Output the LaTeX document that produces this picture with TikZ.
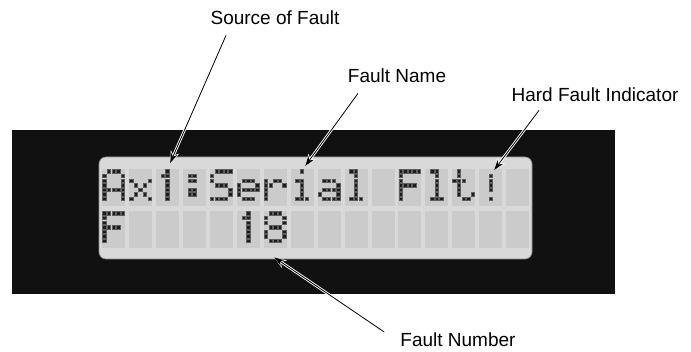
\documentclass[tikz,border=0pt]{standalone}
\usepackage{fontspec}
\setmainfont{Liberation Sans}
\usepackage{tikz}
\usetikzlibrary{arrows.meta}
\definecolor{lcdBezel}{HTML}{111111}
\definecolor{lcdPanel}{HTML}{D9D9D9}
\definecolor{lcdEdge}{HTML}{8C8C8C}
\definecolor{lcdCell}{HTML}{CBCBCB}
\definecolor{lcdDot}{HTML}{1C1C1C}
\definecolor{lcdDotEdge}{HTML}{5E5E5E}
\tikzset{
    lcd/bezel/.style={fill=lcdBezel, draw=none},
    lcd/panel/.style={
        fill=lcdPanel, draw=lcdEdge, line width=0.6pt, rounded corners=7pt
    },
    lcd/cell/.style={
        rectangle, fill=lcdCell, draw=none, inner sep=0pt,
        minimum width=23pt, minimum height=37pt, anchor=north west
    },
    lcd/dot/.style={fill=lcdDot, draw=lcdDotEdge, line width=0.5pt},
    callout/label/.style={
        font=\fontsize{19}{22}\selectfont, text=black,
        inner sep=1pt, anchor=base
    },
    callout/arrow/.style={
        draw=black, line width=0.8pt,
        -{Stealth[length=10pt,width=6.5pt]},
        preaction={draw=white, line width=2.6pt,
            -{Stealth[length=12pt,width=9pt]}}
    }
}
% 5x7 glyph rows, one number per row (bit 4 = left column)
\def\glyphA{14,17,17,17,31,17,17}
\def\glyphx{0,0,17,10,4,10,17}
\def\glyphOne{4,12,4,4,4,4,4}
\def\glyphColon{0,12,12,0,12,12,0}
\def\glyphS{15,16,16,14,1,1,30}
\def\glyphe{0,0,14,17,31,16,14}
\def\glyphr{0,0,22,25,16,16,16}
\def\glyphi{4,0,12,4,4,4,14}
\def\glypha{0,0,14,1,15,17,15}
\def\glyphl{12,4,4,4,4,4,14}
\def\glyphF{31,16,16,30,16,16,16}
\def\glypht{8,8,28,8,8,9,6}
\def\glyphBang{0,4,4,4,4,0,4}
\def\glyphEight{14,17,17,14,17,17,14}
\newcommand\lcdglyph[2]{%
    \foreach \bits [count=\r from 0] in #2 {
        \foreach \c in {0,...,4} {
            \pgfmathtruncatemacro\lit{mod(floor(\bits/2^(4-\c)),2)}
            \ifnum\lit=1
                \filldraw[lcd/dot] ([shift={(4.6*\c+0.6,4.6*\r+0.6)}]#1.north west)
                    rectangle ++(3.4,3.4);
            \fi
        }
    }
}

\begin{document}
\begin{tikzpicture}[x=1pt, y=-1pt]
    \useasboundingbox (0,0) rectangle (691,352);

    \fill[lcd/bezel] (12,130) rectangle (615,294);
    \filldraw[lcd/panel] (99,157) rectangle (532,259);
    \foreach \i in {0,...,15} {
        \node[lcd/cell] (c1-\i) at (102+26.93*\i,169) {};
        \node[lcd/cell] (c2-\i) at (102+26.93*\i,211) {};
    }

    % first line: Ax1:Serial Flt!
    \lcdglyph{c1-0}{\glyphA}
    \lcdglyph{c1-1}{\glyphx}
    \lcdglyph{c1-2}{\glyphOne}
    \lcdglyph{c1-3}{\glyphColon}
    \lcdglyph{c1-4}{\glyphS}
    \lcdglyph{c1-5}{\glyphe}
    \lcdglyph{c1-6}{\glyphr}
    \lcdglyph{c1-7}{\glyphi}
    \lcdglyph{c1-8}{\glypha}
    \lcdglyph{c1-9}{\glyphl}
    \lcdglyph{c1-11}{\glyphF}
    \lcdglyph{c1-12}{\glyphl}
    \lcdglyph{c1-13}{\glypht}
    \lcdglyph{c1-14}{\glyphBang}
    % second line: F    18
    \lcdglyph{c2-0}{\glyphF}
    \lcdglyph{c2-5}{\glyphOne}
    \lcdglyph{c2-6}{\glyphEight}

    \node[callout/label] (sourceLbl) at (275,25) {Source of Fault};
    \node[callout/label] (nameLbl) at (397,83) {Fault Name};
    \node[callout/label] (hardLbl) at (595,102) {Hard Fault Indicator};
    \node[callout/label] (numberLbl) at (458,347) {Fault Number};

    \draw[callout/arrow] ([xshift=-49pt,yshift=-9pt]sourceLbl.south)
        -- ([xshift=2.6pt,yshift=6pt]c1-2.north);
    \draw[callout/arrow] ([xshift=-39pt,yshift=-9pt]nameLbl.south)
        -- ([xshift=3pt,yshift=3pt]c1-7.north);
    \draw[callout/arrow] ([xshift=-56pt,yshift=-7pt]hardLbl.south)
        -- ([xshift=3.5pt,yshift=-1pt]c1-14.north);
    \draw[callout/arrow] ([xshift=-15pt]numberLbl.north west)
        -- ([xshift=-1pt,yshift=-9pt]c2-6.south);
\end{tikzpicture}
\end{document}
